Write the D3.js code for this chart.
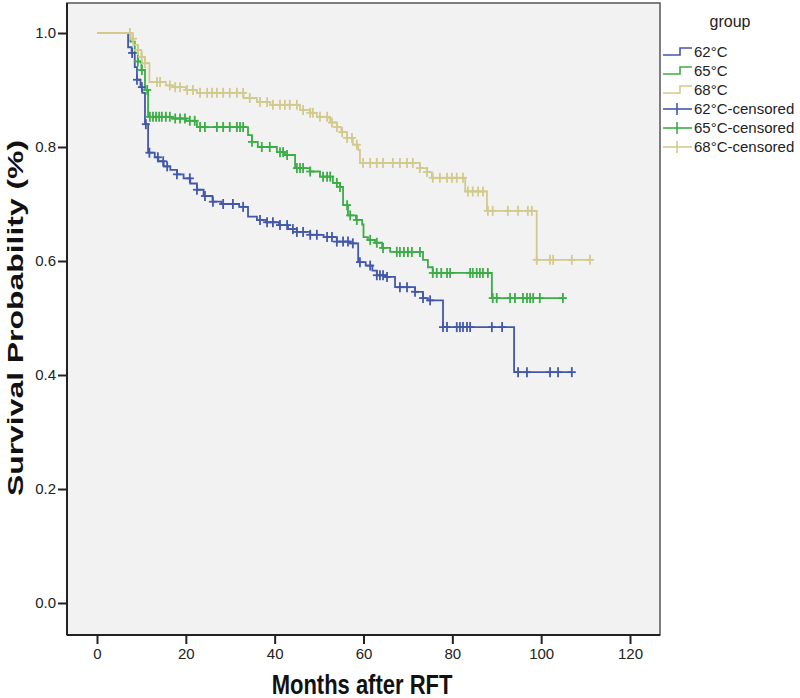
<!DOCTYPE html>
<html><head><meta charset="utf-8">
<script src="https://cdn.jsdelivr.net/npm/d3@7"></script>
<style>body{margin:0;background:#fff}svg{display:block}text{font-family:Arial,"Liberation Sans",sans-serif}</style>
</head><body><svg id="c" width="800" height="698"></svg>
<script>
const groups = ["62°C","65°C","68°C"];
const colors = ["#4358aa","#3cad47","#d2ca8c"];
const xTicks = [0,20,40,60,80,100,120];
const yTicks = [0,0.2,0.4,0.6,0.8,1.0];

// step points [months, survival]
const steps62 = [[0,1],[7,0.975],[7.8,0.965],[8.5,0.94],[9,0.918],[9.8,0.905],[10.2,0.895],[10.8,0.84],[11.5,0.79],[13,0.782],[13.8,0.775],[15,0.766],[16.5,0.76],[18,0.752],[19.5,0.745],[21,0.736],[22.5,0.725],[24,0.714],[26,0.704],[28,0.70],[32,0.695],[34,0.678],[36,0.672],[38,0.668],[41,0.663],[43,0.656],[45,0.651],[48,0.646],[51,0.642],[54,0.634],[57,0.631],[58.8,0.598],[60.5,0.592],[62,0.583],[63,0.575],[65,0.572],[67.1,0.554],[71.6,0.546],[73.4,0.535],[74.5,0.531],[77.9,0.484],[93.9,0.405]];
const cens62 = [7.9,9.0,10.1,11.0,11.8,13.7,14.9,15.8,18,20.9,22.5,24.3,26.1,28.4,30.6,32.9,36.7,38.3,39.6,41.2,42.8,44.1,45,46.4,48,49.5,51.8,52.9,54,55.4,56.5,57.6,59.2,61.5,63,63.7,64.4,65.3,68.2,69.8,71.6,73.4,75,77.9,78.8,81,81.7,82.4,83.3,84,88.9,91.2,94.8,96.8,102,103.8,106.9];

const steps65 = [[0,1],[7.5,0.985],[8.5,0.965],[9.2,0.95],[10,0.935],[10.8,0.90],[11.5,0.853],[17,0.85],[20,0.846],[22.5,0.835],[34,0.821],[34.9,0.809],[36.2,0.80],[40.5,0.791],[42.3,0.786],[44.6,0.763],[48,0.757],[50.2,0.748],[53.1,0.737],[54.7,0.73],[55.4,0.698],[56.5,0.68],[58.3,0.672],[59.7,0.664],[60,0.642],[61,0.637],[62.6,0.632],[64.2,0.623],[66,0.616],[73.4,0.602],[74.5,0.589],[75.6,0.579],[88.9,0.535]];
const cens65 = [9.2,10.1,11.3,11.9,12.6,13.3,14,14.6,15.5,16.4,17.6,18.7,19.8,20.9,22,23.2,24.3,27,28.4,29.9,31.5,32.2,32.9,34.9,37.1,38.9,41.2,41.9,42.8,45,45.7,46.4,48,50.9,51.8,52.5,54,54.7,56.3,57,58.5,61.5,63,64.4,67.5,68.2,69.1,70,70.9,72.7,75.6,76.5,77.5,78.8,79.5,84,84.6,85.5,86.2,86.9,88,89.1,90,93,94.1,95.9,96.8,97.5,98.2,99.7,104.9];

const steps68 = [[0,1],[7.5,0.99],[8.2,0.979],[9.2,0.97],[10,0.958],[10.8,0.947],[11.8,0.914],[15.5,0.908],[17,0.905],[20,0.90],[22.5,0.895],[33,0.886],[36,0.879],[39,0.874],[45.7,0.865],[48,0.86],[49.5,0.853],[52,0.851],[52.5,0.843],[54,0.835],[55,0.826],[56.3,0.816],[57.6,0.804],[58.8,0.795],[59.2,0.772],[72.7,0.763],[74.3,0.756],[75.4,0.746],[82.9,0.722],[87.8,0.688],[99,0.602]];
const cens68 = [7.4,8.1,9.2,10.1,10.8,13.5,14.2,16.4,17.6,18.7,20.3,21.6,23.2,24.8,25.9,27,28.4,29.9,31.5,32.9,34.4,36.7,38.3,39.6,41.2,42.3,43.4,45,46.4,48,48.6,50.2,51.8,52.9,54,55.2,56.3,57.4,58.5,59.9,61.5,63,64.4,66.6,68.2,69.8,71.1,72.7,74.3,75.6,77.2,78.8,79.9,81,82.4,83.5,84.6,85.8,86.9,88,89.1,92.5,94.8,97,97.9,99,102,102.7,106.9,111];

const allSteps = [steps62, steps65, steps68];
const allCens = [cens62, cens65, cens68];

const svg = d3.select("#c");
const frame = {l:67, t:3, r:660, b:635};
const x = d3.scaleLinear().domain([0,120]).range([97,630]);
const y = d3.scaleLinear().domain([0,1]).range([603,33]);

svg.append("rect").attr("x",frame.l).attr("y",frame.t).attr("width",frame.r-frame.l).attr("height",frame.b-frame.t)
  .attr("fill","#f2f2f2").attr("stroke","#555").attr("stroke-width",1.5);

// axes
const ya = svg.append("g").attr("transform",`translate(${frame.l},0)`)
  .call(d3.axisLeft(y).tickValues(yTicks).tickFormat(d3.format(".1f")).tickSize(9).tickPadding(2));
const xa = svg.append("g").attr("transform",`translate(0,${frame.b})`)
  .call(d3.axisBottom(x).tickValues(xTicks).tickFormat(d3.format("d")).tickSize(9).tickPadding(4));
[ya,xa].forEach(g=>{
  g.select(".domain").remove();
  g.selectAll(".tick line").attr("stroke","#222").attr("stroke-width",2);
  g.selectAll(".tick text").attr("fill","#222").style("font-size","15px").style("font-family","Arial, 'Liberation Sans', sans-serif");
});
// left & bottom axis lines
svg.append("line").attr("x1",frame.l).attr("x2",frame.l).attr("y1",frame.t).attr("y2",frame.b).attr("stroke","#222").attr("stroke-width",2);
svg.append("line").attr("x1",frame.l).attr("x2",frame.r).attr("y1",frame.b).attr("y2",frame.b).attr("stroke","#222").attr("stroke-width",2);

// titles
svg.append("text").attr("transform","translate(362,694) scale(1,1.22)").attr("text-anchor","middle")
  .style("font-size","22px").style("font-weight","bold").attr("fill","#111").text("Months after RFT");
svg.append("text").attr("transform","translate(23,318) rotate(-90) scale(1.45,1)").attr("text-anchor","middle")
  .style("font-size","22px").style("font-weight","bold").attr("fill","#111").text("Survival Probability (%)");

function survAt(steps,t){let v=1;for(const s of steps){if(s[0]<=t)v=s[1];else break;}return v;}

const line = d3.line().x(d=>x(d[0])).y(d=>y(d[1])).curve(d3.curveStepAfter);
allSteps.forEach((st,i)=>{
  const last = d3.max(allCens[i]);
  const pts = st.concat([[last, st[st.length-1][1]]]);
  svg.append("path").attr("d",line(pts)).attr("fill","none").attr("stroke",colors[i]).attr("stroke-width",1.8);
});
// censor marks
allCens.forEach((cs,i)=>{
  const g = svg.append("g").attr("stroke",colors[i]).attr("stroke-width",1.8);
  cs.forEach(t=>{
    const cx=x(t), cy=y(survAt(allSteps[i],t));
    g.append("line").attr("x1",cx).attr("x2",cx).attr("y1",cy-5).attr("y2",cy+5);
    g.append("line").attr("x1",cx-4).attr("x2",cx+4).attr("y1",cy).attr("y2",cy);
  });
});

// legend
const lg = svg.append("g");
lg.append("text").attr("x",730).attr("y",27).attr("text-anchor","middle").style("font-size","16px").attr("fill","#222").text("group");
const labels = groups.concat(groups.map(g=>g+"-censored"));
labels.forEach((lab,k)=>{
  const cy = 52 + k*19;
  const col = colors[k%3];
  if(k<3){
    lg.append("path").attr("d",`M663,${cy+3}H680V${cy-4}H692`).attr("fill","none").attr("stroke",col).attr("stroke-width",1.6);
  } else {
    lg.append("line").attr("x1",663).attr("x2",692).attr("y1",cy).attr("y2",cy).attr("stroke",col).attr("stroke-width",1.6);
    lg.append("line").attr("x1",677).attr("x2",677).attr("y1",cy-6).attr("y2",cy+6).attr("stroke",col).attr("stroke-width",1.6);
  }
  lg.append("text").attr("x",694).attr("y",cy+5).style("font-size","15px").attr("fill","#222").text(lab);
});
</script></body></html>
